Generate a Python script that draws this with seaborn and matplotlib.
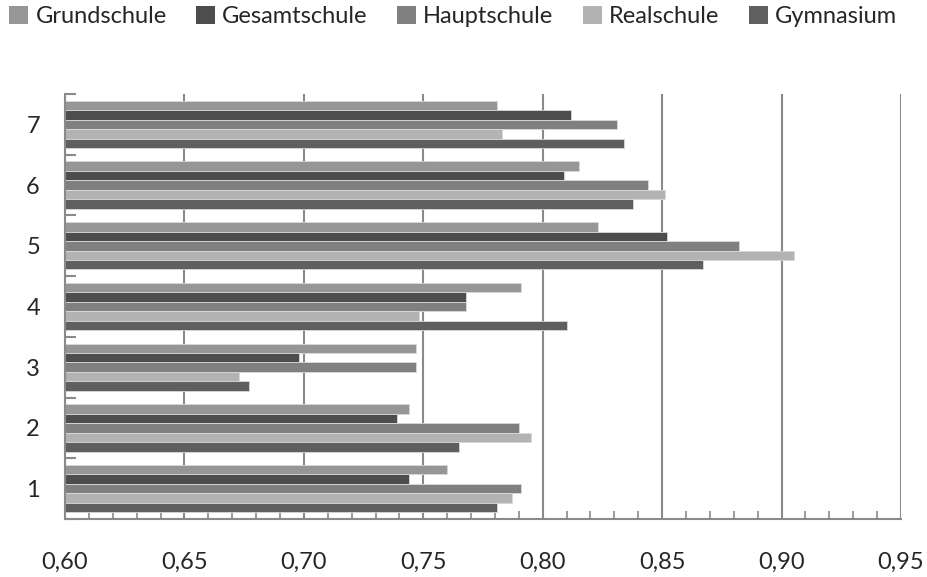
import pandas as pd
import numpy as np
import matplotlib
matplotlib.use('Agg')
import matplotlib.pyplot as plt
import matplotlib.ticker as mticker
from matplotlib.patches import Patch
import seaborn as sns

# Daten
kategorien = ['1', '2', '3', '4', '5', '6', '7']
schulformen = ['Grundschule', 'Gesamtschule', 'Hauptschule', 'Realschule', 'Gymnasium']
grundschule = [0.760, 0.744, 0.747, 0.791, 0.823, 0.815, 0.781]
gesamtschule = [0.744, 0.739, 0.698, 0.768, 0.852, 0.809, 0.812]
hauptschule = [0.791, 0.790, 0.747, 0.768, 0.882, 0.844, 0.831]
realschule = [0.787, 0.795, 0.673, 0.748, 0.905, 0.851, 0.783]
gymnasium = [0.781, 0.765, 0.677, 0.810, 0.867, 0.838, 0.834]
farben = ['#969696', '#4d4d4d', '#808080', '#b3b3b3', '#5f5f5f']

werte = [grundschule, gesamtschule, hauptschule, realschule, gymnasium]
df = pd.DataFrame({
    'Kategorie': kategorien * len(schulformen),
    'Schulform': np.repeat(schulformen, len(kategorien)),
    'Wert': np.concatenate(werte),
})

sns.set_style('white')
plt.rcParams['font.family'] = ['Lato', 'DejaVu Sans']

fig = plt.figure(figsize=(9.28, 5.77), dpi=100)
ax = fig.add_axes([65 / 928, 1 - 519 / 577, 836 / 928, 425 / 577])

sns.barplot(data=df, y='Kategorie', x='Wert', hue='Schulform',
            order=kategorien[::-1], hue_order=schulformen, palette=farben,
            orient='h', width=0.78, edgecolor='#d9d9d9', linewidth=0.6,
            saturation=1, legend=False, ax=ax, zorder=2)

ax.set_xlim(0.60, 0.95)
ax.set_ylim(6.5, -0.5)
ax.xaxis.set_major_locator(mticker.MultipleLocator(0.05))
ax.xaxis.set_minor_locator(mticker.MultipleLocator(0.01))
ax.xaxis.set_major_formatter(mticker.FuncFormatter(lambda v, p: f'{v:.2f}'.replace('.', ',')))
ax.grid(axis='x', which='major', color='#8a8a8a', linewidth=1.5, zorder=0)
ax.set_axisbelow(True)

ax.set_yticks(range(7))
ax.set_yticks(np.arange(-0.5, 7, 1), minor=True)
ax.tick_params(axis='y', which='major', length=0, pad=18, labelsize=17)
ax.tick_params(axis='y', which='minor', direction='in', length=8, width=1.5, color='#8a8a8a', left=True)
ax.tick_params(axis='x', which='major', length=0, pad=24, labelsize=17)
ax.tick_params(axis='x', which='minor', direction='in', length=6, width=1.2, color='#8a8a8a', bottom=True)

for s in ['top', 'right']:
    ax.spines[s].set_visible(False)
for s in ['left', 'bottom']:
    ax.spines[s].set_color('#8a8a8a')
    ax.spines[s].set_linewidth(1.5)
ax.set_xlabel('')
ax.set_ylabel('')

handles = [Patch(facecolor=c, edgecolor='none') for c in farben]
fig.legend(handles, schulformen, loc='upper left', bbox_to_anchor=(0.0, 1.006), ncol=5,
           frameon=False, fontsize=17, handlelength=0.8, handleheight=0.8,
           handletextpad=0.3, columnspacing=1.25, borderaxespad=0.0)

plt.savefig('out.png', dpi=100)
